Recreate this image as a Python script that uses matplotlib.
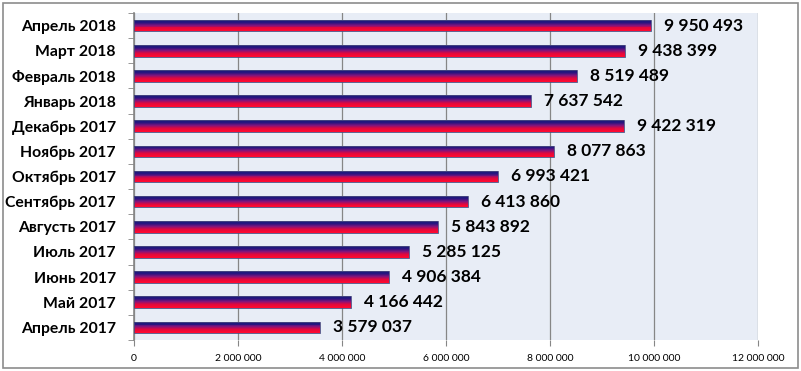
import numpy as np
import matplotlib.pyplot as plt
from matplotlib.colors import LinearSegmentedColormap
from matplotlib.patches import Rectangle

# data (bottom to top)
months = ['Апрель 2017', 'Май 2017', 'Июнь 2017', 'Июль 2017', 'Августь 2017',
          'Сентябрь 2017', 'Октябрь 2017', 'Ноябрь 2017', 'Декабрь 2017',
          'Январь 2018', 'Февраль 2018', 'Март 2018', 'Апрель 2018']
values = [3579037, 4166442, 4906384, 5285125, 5843892, 6413860, 6993421,
          8077863, 9422319, 7637542, 8519489, 9438399, 9950493]
xticks = [0, 2000000, 4000000, 6000000, 8000000, 10000000, 12000000]

def fmt(v):
    return f'{v:,}'.replace(',', ' ')

plt.rcParams['font.family'] = ['Lato', 'DejaVu Sans']

fig = plt.figure(figsize=(8.01, 3.71), dpi=100)
ax = fig.add_axes([0.1673, 0.0836, 0.7790, 0.8814])
ax.set_facecolor('#e8edf6')

# frame around whole picture
fig.patches.append(Rectangle((0.004, 0.008), 0.992, 0.984, transform=fig.transFigure,
                             fill=False, edgecolor='#8c8c8c', linewidth=1.2))

cmap = LinearSegmentedColormap.from_list(
    'bar', [(0, '#ff0a30'), (0.3, '#e0083e'), (0.55, '#80147c'), (0.8, '#2a1480'), (1, '#161c7a')])
h = 0.46
y = np.arange(len(months))
nslice = 12

# gradient bars: stack of thin slices, red at bottom to navy at top
# each slice reaches to the bar top so no background seams show through
for k in range(nslice):
    y0 = y - h / 2 + k * h / nslice
    ax.barh(y0, values, height=h - k * h / nslice, align='edge',
            color=cmap(k / (nslice - 1)), linewidth=0, zorder=3)
ax.barh(y, values, height=h, fill=False, edgecolor='#4a4a80', linewidth=0.6, zorder=4)

for yi, v in zip(y, values):
    ax.text(v + 250000, yi, fmt(v), va='center', ha='left', fontsize=12.5,
            fontweight='bold', zorder=5)

ax.set_xlim(0, 12000000)
ax.set_ylim(-0.5, len(months) - 0.5)
ax.set_xticks(xticks)
ax.set_xticklabels([fmt(t) for t in xticks], fontsize=7.5)
ax.set_yticks(y)
ax.set_yticklabels(months, fontsize=11.3, fontweight='bold')
ax.set_yticks(np.arange(len(months) + 1) - 0.5, minor=True)
ax.tick_params(axis='y', which='major', length=0, pad=13)
ax.tick_params(axis='y', which='minor', length=4, color='#868686', direction='out')
ax.tick_params(axis='x', length=4, color='#868686', pad=6)
ax.grid(axis='x', color='#868686', linewidth=0.9, zorder=1)
ax.set_axisbelow(True)
for s in ['top', 'right']:
    ax.spines[s].set_visible(False)
ax.spines['left'].set_color('#868686')
ax.spines['bottom'].set_visible(False)
ax.spines['left'].set_linewidth(1.2)

fig.savefig('out.png', dpi=100)
